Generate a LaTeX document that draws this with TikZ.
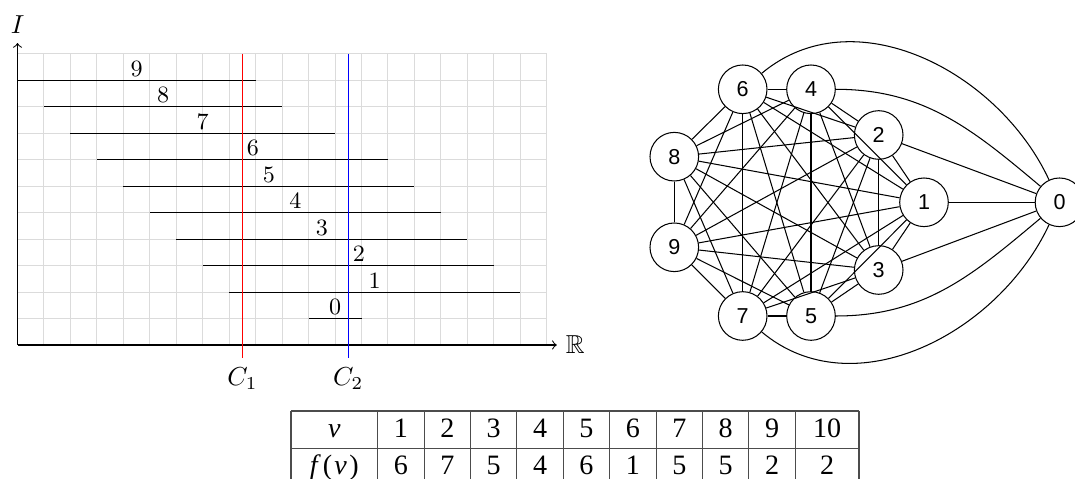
\documentclass[tikz,border=0pt]{standalone}
\usepackage{amssymb}
\usepackage{fontspec}
\newfontfamily\gsans{Liberation Sans}
\newfontfamily\tserif{Liberation Serif}
\begin{document}
\begin{tikzpicture}[x=0.3846pt,y=-0.3846pt,
  gridline/.style={draw=black!14,line width=0.4pt},
  interval/.style={draw=black,line width=0.4pt},
  ilabel/.style={anchor=base,inner sep=0pt,font=\small},
  vtx/.style={circle,draw,line width=0.4pt,minimum size=18.7pt,inner sep=0pt,font=\gsans\fontsize{8.3pt}{10pt}\selectfont},
  gedge/.style={line width=0.4pt},
  tline/.style={draw=black!70,line width=0.45pt},
  tcell/.style={anchor=base,inner sep=0pt,font=\tserif\fontsize{10.8pt}{13pt}\selectfont}]
\useasboundingbox (0,0) rectangle (1075,479);
\clip (0,0) rectangle (1075,479);
% ---------- interval plot ----------
\begin{scope}[shift={(17.5,345)},x=10.177pt,y=10.177pt]
  \draw[gridline,step=10.177pt] (0,0) grid (20,11);
  \coordinate (O) at (0,0);
  \coordinate (xend) at (20.38,0);
  \coordinate (yend) at (0,11.41);
  \draw[->,line width=0.4pt] (O) -- (xend);
  \draw[->,line width=0.4pt] (O) -- (yend);
  \node[right] (R) at (xend) {$\mathbb{R}$};
  \node[above] (I) at (yend) {$I$};
  \foreach \n/\a/\b/\y/\lx in {9/0/9/10/4.5, 8/1/10/9/5.5, 7/2/12/8/7, 6/3/14/7/8.9, 5/4/15/6/9.5, 4/5/16/5/10.5, 3/6/17/4/11.5, 2/7/18/3/12.9, 1/8/19/2/13.5, 0/11/13/1/12}{
    \draw[interval] (\a,\y) -- (\b,\y);
    \node[ilabel] (L\n) at (\lx,\y+0.15) {\n};
  }
  \coordinate (c1top) at (8.5,11);
  \coordinate (c1) at (8.5,-0.5);
  \coordinate (c2top) at (12.5,11);
  \coordinate (c2) at (12.5,-0.5);
  \draw[red,line width=0.4pt] (c1top) -- (c1);
  \draw[blue,line width=0.4pt] (c2top) -- (c2);
  \node[below] (C1) at (c1) {$C_1$};
  \node[below] (C2) at (c2) {$C_2$};
\end{scope}
% ---------- graph ----------
\node[vtx] (g6) at (742.7,89.3) {6};
\node[vtx] (g4) at (811,89.3) {4};
\node[vtx] (g2) at (878.7,135) {2};
\node[vtx] (g1) at (924,202.3) {1};
\node[vtx] (g0) at (1059.5,202.3) {0};
\node[vtx] (g8) at (674.3,156.7) {8};
\node[vtx] (g9) at (674.3,247.3) {9};
\node[vtx] (g7) at (742.7,316) {7};
\node[vtx] (g5) at (811,316) {5};
\node[vtx] (g3) at (878.7,270) {3};
\foreach \i in {1,...,8}{
  \pgfmathtruncatemacro\kk{\i+1}
  \foreach \j in {\kk,...,9}{
    \draw[gedge] (g\i) -- (g\j);
  }
}
\draw[gedge] (g1) -- (g0);
\draw[gedge] (g2) -- (g0);
\draw[gedge] (g3) -- (g0);
\draw[gedge] (g4) to[out=0,in=140] (g0);
\draw[gedge] (g5) to[out=0,in=-140] (g0);
\draw[gedge] (g6) to[out=40,in=115] (g0);
\draw[gedge] (g7) to[out=-40,in=-115] (g0);
% ---------- table ----------
\foreach \x in {291,377.7,424.1,470.5,516.9,563.3,609.7,656.1,702.5,748.9,795.3,859}
  \draw[tline] (\x,411) -- (\x,486.2);
\draw[tline] (291,411) -- (859,411);
\draw[tline] (291,448.6) -- (859,448.6);
\draw[tline] (291,486.2) -- (859,486.2);
\node[tcell] (tv) at (334.35,437.3) {\itshape v};
\node[tcell] (tf) at (334.35,474.9) {{\itshape f}\kern2pt(\kern0.8pt{\itshape v}\kern1pt)};
\foreach \c/\v/\f in {400.9/1/6, 447.3/2/7, 493.7/3/5, 540.1/4/4, 586.5/5/6, 632.9/6/1, 679.3/7/5, 725.7/8/5, 772.1/9/2, 827.15/10/2}{
  \node[tcell] (v\v) at (\c,437.3) {\v};
  \node[tcell] (f\v) at (\c,474.9) {\f};
}
\end{tikzpicture}
\end{document}
